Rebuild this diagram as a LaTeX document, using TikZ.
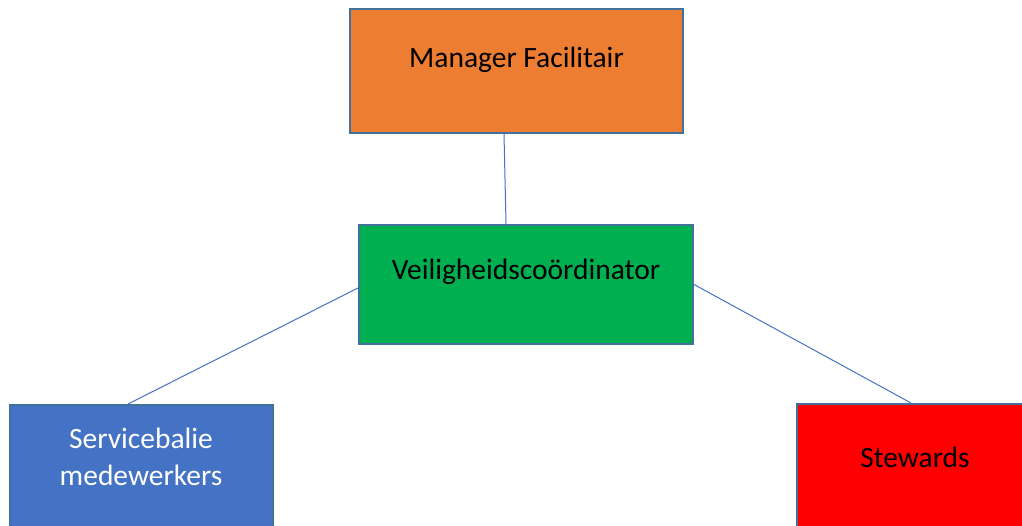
\documentclass[tikz,border=0pt]{standalone}
\usepackage{fontspec}
\setmainfont{Carlito}
\definecolor{boxedge}{HTML}{41719C}
\definecolor{linkblue}{HTML}{4472C4}
\definecolor{mgrorange}{HTML}{ED7D31}
\definecolor{coordgreen}{HTML}{00B050}
\definecolor{deskblue}{HTML}{4472C4}
\definecolor{stewred}{HTML}{FF0000}
\tikzset{
  orgbox/.style={draw=boxedge, line width=2pt, rectangle, inner sep=0pt},
  orgtext/.style={font=\fontsize{29.5}{37.5}\selectfont, align=center, inner sep=0pt},
  link/.style={draw=linkblue, line width=1pt}
}
\begin{document}
\begin{tikzpicture}[x=1pt,y=-1pt]
  \useasboundingbox (0,0) rectangle (1022,526);
  \clip (0,0) rectangle (1022,526);
  % boxes
  \node[orgbox, fill=mgrorange, minimum width=333pt, minimum height=124pt] (mgr) at (516.5,71) {};
  \node[orgbox, fill=coordgreen, minimum width=334pt, minimum height=119pt] (veil) at (526,284.5) {};
  \node[orgbox, fill=deskblue, minimum width=263pt, minimum height=140pt] (desk) at (141.5,475) {};
  \node[orgbox, fill=stewred, minimum width=228pt, minimum height=140pt] (stew) at (911,474) {};
  % labels
  \node[orgtext] (mgrtxt) at (516.5,60) {Manager Facilitair};
  \node[orgtext] (veiltxt) at (526,272) {Veiligheidscoördinator};
  \node[orgtext, text=white] (desktxt) at (141,457) {Servicebalie\\medewerkers};
  \node[orgtext] (stewtxt) at (915,457) {Stewards};
  % connectors
  \draw[link] ([xshift=-12.5pt]mgr.south) -- ([xshift=-20pt]veil.north);
  \draw[link] ([yshift=-3.5pt]veil.west) -- ([xshift=-13.5pt]desk.north);
  \draw[link] (veil.east) -- (stew.north);
\end{tikzpicture}
\end{document}
